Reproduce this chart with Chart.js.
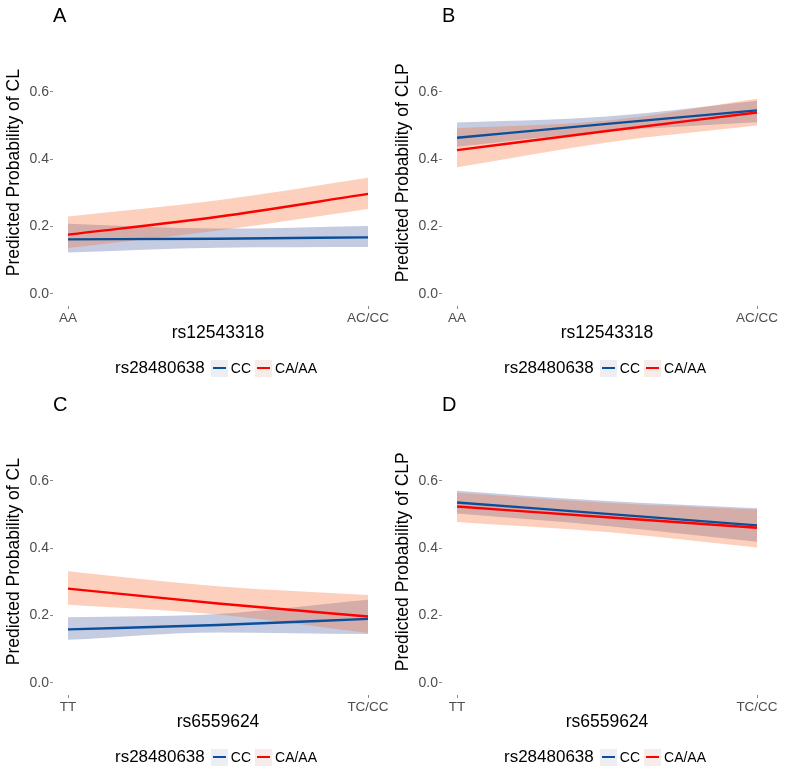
<!DOCTYPE html>
<html>
<head>
<meta charset="utf-8">
<script src="https://cdn.jsdelivr.net/npm/chart.js@4.4.1/dist/chart.umd.min.js"></script>
<style>
  body { margin: 0; background: #fff; font-family: "Liberation Sans", Arial, sans-serif; }
  #wrap { position: relative; width: 785px; height: 772px; overflow: hidden; }
  .panel { position: absolute; width: 392px; height: 383px; }
  .panel canvas { position: absolute; left: 0; top: 0; }
  .letter { position: absolute; left: 53px; top: 5px; font-size: 20px; line-height: 20px; color: #000; }
  .legend { position: absolute; left: 53px; width: 330px; top: 358px; height: 20px; display: flex; justify-content: center; align-items: center; font-size: 14px; color: #000; white-space: nowrap; }
  .legend .title { font-size: 17px; margin-right: 6px; }
  .key { width: 17px; height: 17px; position: relative; margin-right: 3px; }
  .key i { position: absolute; left: 2px; right: 2px; top: 7.5px; height: 2.4px; }
  .lab { margin-right: 4px; }
</style>
</head>
<body>
<div id="wrap">
  <div class="panel" style="left:0;top:0"><canvas id="chartA" width="392" height="383"></canvas><div class="letter">A</div><div class="legend" id="legA"></div></div>
  <div class="panel" style="left:389px;top:0"><canvas id="chartB" width="392" height="383"></canvas><div class="letter">B</div><div class="legend" id="legB"></div></div>
  <div class="panel" style="left:0;top:389px"><canvas id="chartC" width="392" height="383"></canvas><div class="letter">C</div><div class="legend" id="legC"></div></div>
  <div class="panel" style="left:389px;top:389px"><canvas id="chartD" width="392" height="383"></canvas><div class="letter">D</div><div class="legend" id="legD"></div></div>
</div>
<script>
// x positions (0 = first genotype, 1 = second), y ticks and labels
const xPos = [0, 0.5, 1];
const yTicks = [0, 0.2, 0.4, 0.6];
const rs125Labels = ["AA", "AC/CC"];
const rs655Labels = ["TT", "TC/CC"];
const groupLabels = ["CC", "CA/AA"];
const legendTitle = "rs28480638";

// A: CL vs rs12543318
const aCcFit = [0.162, 0.164, 0.168];
const aCcLow = [0.123, 0.137, 0.139];
const aCcHigh = [0.208, 0.194, 0.202];
const aCaFit = [0.176, 0.229, 0.297];
const aCaLow = [0.136, 0.188, 0.252];
const aCaHigh = [0.230, 0.278, 0.345];

// B: CLP vs rs12543318
const bCcFit = [0.464, 0.505, 0.545];
const bCcLow = [0.437, 0.483, 0.510];
const bCcHigh = [0.509, 0.527, 0.574];
const bCaFit = [0.427, 0.484, 0.539];
const bCaLow = [0.376, 0.450, 0.500];
const bCaHigh = [0.492, 0.515, 0.580];

// C: CL vs rs6559624
const cCcFit = [0.159, 0.172, 0.190];
const cCcLow = [0.128, 0.150, 0.145];
const cCcHigh = [0.195, 0.205, 0.247];
const cCaFit = [0.280, 0.236, 0.197];
const cCaLow = [0.232, 0.203, 0.148];
const cCaHigh = [0.332, 0.287, 0.261];

// D: CLP vs rs6559624
const dCcFit = [0.536, 0.502, 0.468];
const dCcLow = [0.503, 0.466, 0.419];
const dCcHigh = [0.571, 0.540, 0.519];
const dCaFit = [0.524, 0.492, 0.461];
const dCaLow = [0.478, 0.448, 0.402];
const dCaHigh = [0.565, 0.535, 0.515];

const BLUE = "#0b4f9b";
const RED = "#ff0000";
const BLUE_BAND = "rgba(62, 82, 152, 0.3)";
const RED_BAND = "rgba(245, 98, 35, 0.3)";

Chart.defaults.font.family = '"Liberation Sans", Arial, sans-serif';

const pts = (ys) => ys.map((y, i) => ({ x: xPos[i], y: y }));

function band(ys, color, fill) {
  return {
    data: pts(ys),
    borderColor: "rgba(0,0,0,0)",
    borderWidth: 0,
    backgroundColor: color,
    fill: fill,
  };
}

function makePanel(id, xLabels, xTitle, yTitle, cc, ca) {
  const ctx = document.getElementById(id).getContext("2d");
  new Chart(ctx, {
    type: "line",
    data: {
      datasets: [
        { label: groupLabels[1], data: pts(ca.fit), borderColor: RED, borderWidth: 2.4, fill: false },
        { label: groupLabels[0], data: pts(cc.fit), borderColor: BLUE, borderWidth: 2.4, fill: false },
        band(ca.high, RED_BAND, "+1"),
        band(ca.low, RED_BAND, false),
        band(cc.high, BLUE_BAND, "+1"),
        band(cc.low, BLUE_BAND, false),
      ],
    },
    options: {
      responsive: false,
      animation: false,
      devicePixelRatio: 1,
      layout: { padding: { left: 0, right: 9, top: 39.4, bottom: 37 } },
      elements: {
        point: { radius: 0 },
        line: { tension: 0.4, cubicInterpolationMode: "monotone" },
      },
      plugins: {
        legend: { display: false },
        tooltip: { enabled: false },
        filler: { propagate: false, drawTime: "beforeDatasetsDraw" },
      },
      scales: {
        x: {
          type: "linear",
          min: -0.05,
          max: 1.05,
          border: { display: false },
          grid: { drawOnChartArea: false, drawTicks: true, tickLength: 3, tickColor: "#8a8a8a" },
          ticks: {
            color: "#4d4d4d",
            font: { size: 13.5 },
            padding: 1,
            maxRotation: 0,
            callback: (v, i) => xLabels[i],
          },
          afterBuildTicks: (scale) => {
            scale.ticks = [{ value: 0 }, { value: 1 }];
          },
          afterFit: (scale) => {
            scale.height = 40;
            scale.paddingLeft = 0;
            scale.paddingRight = 0;
          },
          title: { display: true, text: xTitle, color: "#000", font: { size: 17.5 }, padding: { top: 0, bottom: 2.2 } },
        },
        y: {
          type: "linear",
          min: -0.036,
          max: 0.756,
          border: { display: false },
          grid: { drawOnChartArea: false, drawTicks: true, tickLength: 3, tickColor: "#8a8a8a" },
          ticks: {
            color: "#4d4d4d",
            font: { size: 14 },
            padding: 1,
            callback: (v) => v.toFixed(1),
          },
          afterBuildTicks: (scale) => {
            scale.ticks = yTicks.map((v) => ({ value: v }));
          },
          afterFit: (scale) => {
            scale.width = 53;
          },
          title: { display: true, text: yTitle, color: "#000", font: { size: 17.5 }, padding: { top: 3.5, bottom: 0 } },
        },
      },
    },
  });
}

function makeLegend(id) {
  const el = document.getElementById(id);
  el.innerHTML =
    `<span class="title">${legendTitle}</span>` +
    `<span class="key" style="background:#eceef4"><i style="background:${BLUE}"></i></span><span class="lab">${groupLabels[0]}</span>` +
    `<span class="key" style="background:#f6ece9"><i style="background:${RED}"></i></span><span class="lab">${groupLabels[1]}</span>`;
}

makePanel("chartA", rs125Labels, "rs12543318", "Predicted Probability of CL",
  { fit: aCcFit, low: aCcLow, high: aCcHigh }, { fit: aCaFit, low: aCaLow, high: aCaHigh });
makePanel("chartB", rs125Labels, "rs12543318", "Predicted Probability of CLP",
  { fit: bCcFit, low: bCcLow, high: bCcHigh }, { fit: bCaFit, low: bCaLow, high: bCaHigh });
makePanel("chartC", rs655Labels, "rs6559624", "Predicted Probability of CL",
  { fit: cCcFit, low: cCcLow, high: cCcHigh }, { fit: cCaFit, low: cCaLow, high: cCaHigh });
makePanel("chartD", rs655Labels, "rs6559624", "Predicted Probability of CLP",
  { fit: dCcFit, low: dCcLow, high: dCcHigh }, { fit: dCaFit, low: dCaLow, high: dCaHigh });

["legA", "legB", "legC", "legD"].forEach(makeLegend);
</script>
</body>
</html>
